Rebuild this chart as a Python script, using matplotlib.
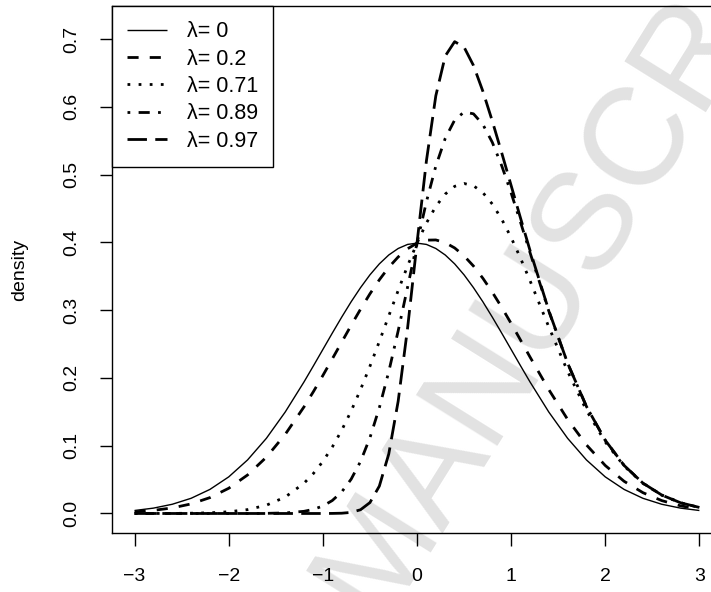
import matplotlib
matplotlib.use("Agg")
import matplotlib.pyplot as plt

plt.rcParams["font.family"] = ["Liberation Sans", "DejaVu Sans"]

# grid of x values and the five density curves
x = [-3.0, -2.8, -2.6, -2.4, -2.2, -2.0, -1.8, -1.6, -1.4, -1.2,
     -1.1, -1.0, -0.9, -0.8, -0.7, -0.6, -0.5, -0.4, -0.3, -0.2, -0.1,
     0.0, 0.1, 0.2, 0.3, 0.4, 0.5, 0.6, 0.7, 0.8, 0.9, 1.0, 1.1, 1.2,
     1.4, 1.6, 1.8, 2.0, 2.2, 2.4, 2.6, 2.8, 3.0]

d_000 = [0.0044, 0.0079, 0.0136, 0.0224, 0.0355, 0.0540, 0.0790, 0.1109, 0.1497, 0.1942,
         0.2179, 0.2420, 0.2661, 0.2897, 0.3123, 0.3332, 0.3521, 0.3683, 0.3814, 0.3910, 0.3970,
         0.3989, 0.3970, 0.3910, 0.3814, 0.3683, 0.3521, 0.3332, 0.3123, 0.2897, 0.2661, 0.2420,
         0.2179, 0.1942, 0.1497, 0.1109, 0.0790, 0.0540, 0.0355, 0.0224, 0.0136, 0.0079, 0.0044]

d_020 = [0.0024, 0.0046, 0.0082, 0.0141, 0.0234, 0.0372, 0.0568, 0.0831, 0.1167, 0.1574,
         0.1799, 0.2036, 0.2281, 0.2528, 0.2775, 0.3014, 0.3241, 0.3448, 0.3632, 0.3785, 0.3906,
         0.3989, 0.4033, 0.4036, 0.3996, 0.3918, 0.3801, 0.3651, 0.3470, 0.3265, 0.3041, 0.2804,
         0.2558, 0.2310, 0.1828, 0.1388, 0.1012, 0.0708, 0.0475, 0.0307, 0.0190, 0.0113, 0.0064]

d_071 = [0.0000, 0.0000, 0.0001, 0.0004, 0.0010, 0.0025, 0.0057, 0.0122, 0.0242, 0.0447,
         0.0591, 0.0768, 0.0980, 0.1228, 0.1511, 0.1828, 0.2172, 0.2538, 0.2915, 0.3290, 0.3654,
         0.3989, 0.4285, 0.4531, 0.4713, 0.4827, 0.4869, 0.4836, 0.4734, 0.4566, 0.4342, 0.4071,
         0.3766, 0.3437, 0.2753, 0.2097, 0.1522, 0.1055, 0.0700, 0.0444, 0.0270, 0.0158, 0.0088]

d_089 = [0.0000, 0.0000, 0.0000, 0.0000, 0.0000, 0.0000, 0.0000, 0.0002, 0.0008, 0.0032,
         0.0061, 0.0110, 0.0191, 0.0318, 0.0505, 0.0767, 0.1117, 0.1561, 0.2092, 0.2695, 0.3340,
         0.3989, 0.4599, 0.5126, 0.5535, 0.5805, 0.5924, 0.5897, 0.5740, 0.5476, 0.5131, 0.4729,
         0.4296, 0.3852, 0.2987, 0.2217, 0.1579, 0.1080, 0.0709, 0.0448, 0.0272, 0.0158, 0.0089]

d_097 = [0.0000, 0.0000, 0.0000, 0.0000, 0.0000, 0.0000, 0.0000, 0.0000, 0.0000, 0.0000,
         0.0000, 0.0000, 0.0001, 0.0004, 0.0016, 0.0055, 0.0161, 0.0404, 0.0878, 0.1657, 0.2736,
         0.3989, 0.5203, 0.6164, 0.6750, 0.6962, 0.6881, 0.6610, 0.6229, 0.5790, 0.5321, 0.4839,
         0.4357, 0.3884, 0.2995, 0.2218, 0.1579, 0.1080, 0.0709, 0.0448, 0.0272, 0.0158, 0.0089]

labels = ["λ= 0", "λ= 0.2", "λ= 0.71", "λ= 0.89", "λ= 0.97"]
x_ticks = [-3, -2, -1, 0, 1, 2, 3]
y_ticks = [0.0, 0.1, 0.2, 0.3, 0.4, 0.5, 0.6, 0.7]

# R line types: solid, dashed, dotted, dotdash, longdash
styles = [
    dict(lw=1.0, ls="-"),
    dict(lw=2.0, ls=(0, (4, 4))),
    dict(lw=2.0, ls=(0, (1, 3))),
    dict(lw=2.0, ls=(0, (1, 3, 4, 3))),
    dict(lw=2.0, ls=(0, (7, 3))),
]

fig = plt.figure(figsize=(7.11, 5.92), dpi=100)
fig.patch.set_facecolor("white")
# the right edge of the plot box falls just outside the picture
ax = fig.add_axes([112 / 711, 59 / 592, 610 / 711, 527 / 592])
ax.set_facecolor("none")

# watermark behind everything
fig.text(377 / 711, (592 - 621) / 592, "MANUSCRIPT", rotation=58,
         rotation_mode="anchor", ha="left", va="baseline",
         fontsize=100, color="#e2e2e2", zorder=-1)

for ys, lab, st in zip([d_000, d_020, d_071, d_089, d_097], labels, styles):
    ax.plot(x, ys, color="black", label=lab, dash_capstyle="butt",
            solid_capstyle="butt", **st)

ax.set_xlim(-3.24, 3.24)
ax.set_ylim(-0.0288, 0.7488)
ax.set_xticks(x_ticks)
ax.set_xticklabels([str(t) if t >= 0 else "\u2212" + str(-t) for t in x_ticks])
ax.set_yticks(y_ticks)
ax.set_yticklabels([f"{t:.1f}" for t in y_ticks], rotation=90, va="center")
ax.tick_params(axis="x", length=9.4, width=1.0, pad=16, labelsize=14)
ax.tick_params(axis="y", length=8.6, width=1.0, pad=14, labelsize=14)
for sp in ax.spines.values():
    sp.set_linewidth(1.0)

ax.set_ylabel("density", fontsize=14, va="center")
ax.yaxis.set_label_coords(-0.151, 0.5)

leg = ax.legend(loc="upper left", bbox_to_anchor=(0, 1), borderaxespad=0,
                fancybox=False, edgecolor="black", framealpha=1, fontsize=15.5,
                handlelength=1.86, handletextpad=0.93, borderpad=0.7,
                labelspacing=0.3)
leg.get_frame().set_linewidth(1.0)

fig.savefig("out.png", dpi=100)
